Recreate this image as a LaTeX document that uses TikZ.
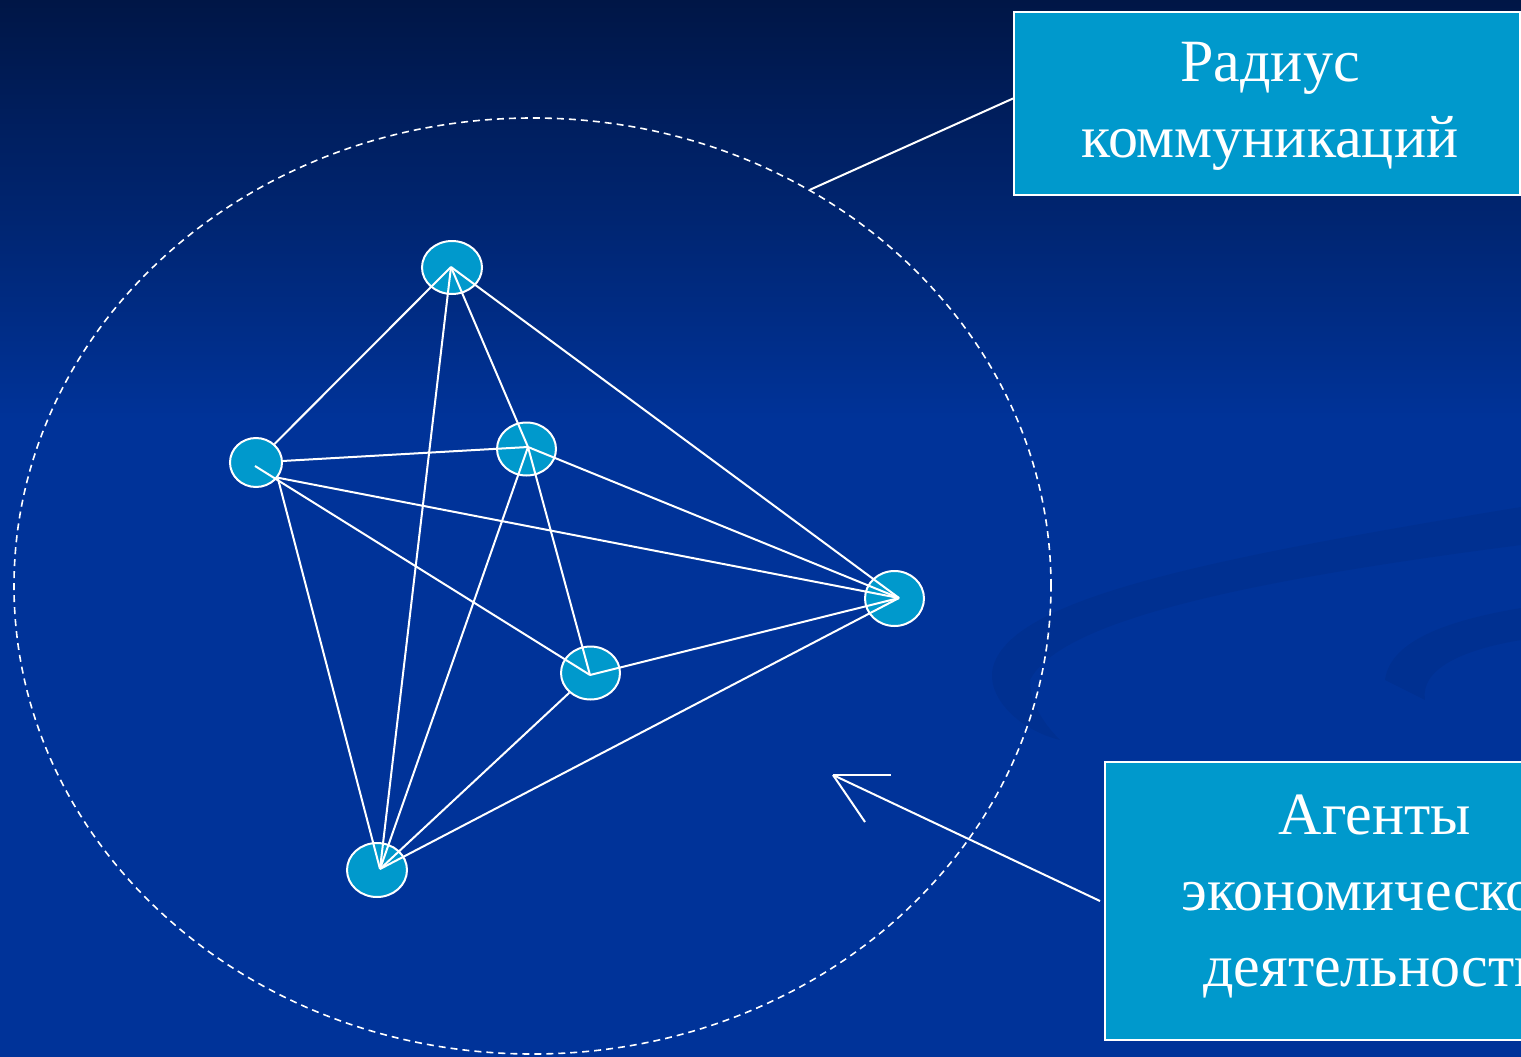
\documentclass[tikz,border=0pt]{standalone}
\usepackage{fontspec}
\setmainfont{Liberation Serif}
\usetikzlibrary{shapes.geometric}
\definecolor{slideblue}{HTML}{003399}
\definecolor{slidetop}{HTML}{001646}
\definecolor{agentfill}{HTML}{0099CC}

\begin{document}
\begin{tikzpicture}[x=1pt, y=-1pt, white, line width=2pt,
	agent/.style={ellipse, draw=white, fill=agentfill, inner sep=0pt, minimum width=59pt, minimum height=53pt},
	link/.style={draw=white, line width=2pt},
	callout/.style={rectangle, draw=white, fill=agentfill, inner sep=0pt},
	callout text/.style={inner sep=0pt, align=center, text=white, font=\fontsize{60}{76}\selectfont}]
	\useasboundingbox (0,0) rectangle (1521,1057);
	\clip (0,0) rectangle (1521,1057);
	% background
	\fill[slideblue] (0,0) rectangle (1521,1057);
	\shade[top color=slidetop, bottom color=slideblue] (0,0) rectangle (1521,420);
	\fill[black, opacity=.05] (992,673) .. controls (1000,600) and (1200,560) .. (1521,507) -- (1521,545) .. controls (1250,580) and (1060,620) .. (1030,680) .. controls (1030,700) and (1040,720) .. (1060,740) .. controls (1020,730) and (990,700) .. (992,673) -- cycle;
	\fill[black, opacity=.05] (1385,680) .. controls (1390,640) and (1450,620) .. (1521,608) -- (1521,640) .. controls (1460,650) and (1420,670) .. (1425,700) -- cycle;
	% communication range
	\node (range) [ellipse, draw=white, dash pattern=on 7pt off 5pt, line width=1.6pt, inner sep=0pt, minimum width=1037pt, minimum height=936pt] at (532.5,586) {};
	% agents
	\node (p1) [agent, minimum width=60pt, minimum height=53pt] at (452,267.5) {};
	\node (p2) [agent, minimum width=52pt, minimum height=49pt] at (256,462.5) {};
	\node (p3) [agent] at (526.5,449) {};
	\node (p4) [agent, minimum height=55pt] at (894.5,598.5) {};
	\node (p5) [agent] at (590.5,673) {};
	\node (p6) [agent, minimum width=60pt, minimum height=54pt] at (377,870) {};
	\coordinate (p1c) at (451,267);
	\coordinate (p2c) at (255,466);
	\coordinate (p3c) at (528,447);
	\coordinate (p4c) at (899,598);
	\coordinate (p5c) at (590,675);
	\coordinate (p6c) at (380,869);
	% links
	\draw[link] (p1c) -- (p2);
	\draw[link] (p2) -- (p3c);
	\draw[link] (p1c) -- (p3c);
	\draw[link] (p1c) -- (p4c);
	\draw[link] (p1c) -- (p6c);
	\draw[link] (p2.-35) -- (p4c);
	\draw[link] (p2.-35) -- (p6c);
	\draw[link] (p2c) -- (p5c);
	\draw[link] (p3c) -- (p4c);
	\draw[link] (p3c) -- (p5c);
	\draw[link] (p3c) -- (p6c);
	\draw[link] (p5c) -- (p4c);
	\draw[link] (p5) -- (p6c);
	\draw[link] (p6c) -- (p4c);
	% callouts
	\node (radiusbox) [callout, minimum width=506pt, minimum height=183pt] at (1267,103.5) {};
	\node (radiustext) [callout text] at ([xshift=3pt,yshift=-3pt]radiusbox.center) {Радиус\\коммуникаций};
	\node (agentsbox) [callout, minimum width=540pt, minimum height=278pt] at (1375,901) {};
	\node (agentstext) [callout text] at ([yshift=5pt]agentsbox.center) {Агенты\\экономической\\деятельности};
	\draw[link] ([yshift=5pt]radiusbox.west) -- (range.55);
	\coordinate (tip) at (833,775);
	\draw[link] ([xshift=-4pt]agentsbox.west) -- (tip);
	\draw[link] (tip) -- ++(58,0);
	\draw[link] (tip) -- ++(32,47);
\end{tikzpicture}
\end{document}
